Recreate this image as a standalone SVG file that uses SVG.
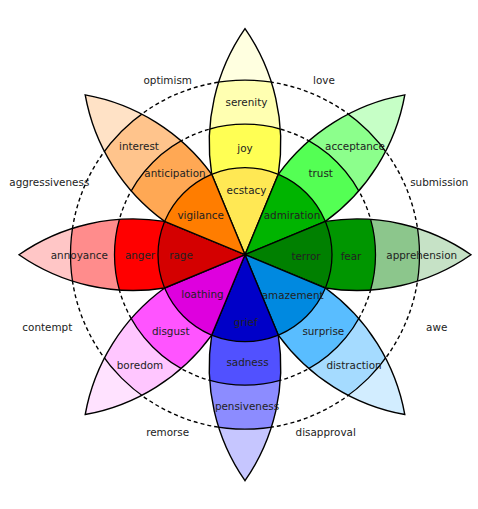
<svg xmlns="http://www.w3.org/2000/svg" xmlns:xlink="http://www.w3.org/1999/xlink" width="478" height="509" viewBox="0 0 478 509">
<style>
.b{stroke:#000;stroke-width:1.3}
.o{fill:none;stroke:#000;stroke-width:1.4;stroke-linejoin:miter}
.d{fill:none;stroke:#000;stroke-width:1.4;stroke-dasharray:4 3}
text{font-family:"DejaVu Sans","Liberation Sans",sans-serif;font-size:10.4px;fill:#222;text-anchor:middle}
</style>
<defs>
<path id="petal" d="M0,0 L-33.29,-80.38 A200,200 0 0 1 0,-226 A200,200 0 0 1 33.29,-80.38 Z"/>
<clipPath id="pc" clipPathUnits="userSpaceOnUse"><use xlink:href="#petal"/></clipPath>
</defs>
<rect width="478" height="509" fill="#fff"/>
<g id="connectors">
<circle class="d" cx="245" cy="254.7" r="174.5"/>
<circle class="d" cx="245" cy="254.7" r="130.5"/>
</g>
<g id="joy">
<g transform="translate(245 254.7) rotate(0)"><g clip-path="url(#pc)"><use xlink:href="#petal" fill="#ffffe0"/><circle class="b" r="174.5" fill="#ffffb1"/><circle class="b" r="130.5" fill="#ffff54"/><circle class="b" r="87" fill="#ffe854"/></g><use xlink:href="#petal" class="o"/></g>
<text x="246.5" y="106">serenity</text><text x="245" y="152">joy</text><text x="246.5" y="194.4">ecstacy</text>
</g>
<g id="trust">
<g transform="translate(245 254.7) rotate(45)"><g clip-path="url(#pc)"><use xlink:href="#petal" fill="#c6ffc6"/><circle class="b" r="174.5" fill="#8cff8c"/><circle class="b" r="130.5" fill="#54ff54"/><circle class="b" r="87" fill="#00b400"/></g><use xlink:href="#petal" class="o"/></g>
<text x="355" y="150.4">acceptance</text><text x="320.7" y="177.4">trust</text><text x="292" y="219.4">admiration</text>
</g>
<g id="fear">
<g transform="translate(245 254.7) rotate(90)"><g clip-path="url(#pc)"><use xlink:href="#petal" fill="#c6e2c6"/><circle class="b" r="174.5" fill="#8cc68c"/><circle class="b" r="130.5" fill="#009600"/><circle class="b" r="87" fill="#008000"/></g><use xlink:href="#petal" class="o"/></g>
<text x="421.7" y="259.4">apprehension</text><text x="351" y="260.4">fear</text><text x="306" y="260.4">terror</text>
</g>
<g id="surprise">
<g transform="translate(245 254.7) rotate(135)"><g clip-path="url(#pc)"><use xlink:href="#petal" fill="#d2edff"/><circle class="b" r="174.5" fill="#a5dbff"/><circle class="b" r="130.5" fill="#59bdff"/><circle class="b" r="87" fill="#0089e0"/></g><use xlink:href="#petal" class="o"/></g>
<text x="354" y="369.4">distraction</text><text x="323.3" y="334.7">surprise</text><text x="292.7" y="298.7">amazement</text>
</g>
<g id="sadness">
<g transform="translate(245 254.7) rotate(180)"><g clip-path="url(#pc)"><use xlink:href="#petal" fill="#c6c6ff"/><circle class="b" r="174.5" fill="#8c8cff"/><circle class="b" r="130.5" fill="#5151ff"/><circle class="b" r="87" fill="#0000c8"/></g><use xlink:href="#petal" class="o"/></g>
<text x="247" y="409.7">pensiveness</text><text x="247.5" y="366">sadness</text><text x="245.7" y="326">grief</text>
</g>
<g id="disgust">
<g transform="translate(245 254.7) rotate(225)"><g clip-path="url(#pc)"><use xlink:href="#petal" fill="#ffe2ff"/><circle class="b" r="174.5" fill="#ffc6ff"/><circle class="b" r="130.5" fill="#ff54ff"/><circle class="b" r="87" fill="#de00de"/></g><use xlink:href="#petal" class="o"/></g>
<text x="140" y="369.4">boredom</text><text x="170.7" y="334.7">disgust</text><text x="202.5" y="298.4">loathing</text>
</g>
<g id="anger">
<g transform="translate(245 254.7) rotate(270)"><g clip-path="url(#pc)"><use xlink:href="#petal" fill="#ffc6c6"/><circle class="b" r="174.5" fill="#ff8c8c"/><circle class="b" r="130.5" fill="#ff0000"/><circle class="b" r="87" fill="#d40000"/></g><use xlink:href="#petal" class="o"/></g>
<text x="79.3" y="258.7">annoyance</text><text x="140" y="258.7">anger</text><text x="181" y="258.7">rage</text>
</g>
<g id="anticipation">
<g transform="translate(245 254.7) rotate(315)"><g clip-path="url(#pc)"><use xlink:href="#petal" fill="#ffe2c6"/><circle class="b" r="174.5" fill="#ffc48c"/><circle class="b" r="130.5" fill="#ffa854"/><circle class="b" r="87" fill="#ff7d00"/></g><use xlink:href="#petal" class="o"/></g>
<text x="139" y="150.4">interest</text><text x="175" y="177.4">anticipation</text><text x="200.7" y="219.4">vigilance</text>
</g>
<g id="dyads">
<text x="167.7" y="84.4">optimism</text>
<text x="324" y="84.4">love</text>
<text x="49.3" y="186">aggressiveness</text>
<text x="439.3" y="186">submission</text>
<text x="47.3" y="331.4">contempt</text>
<text x="436.7" y="331.4">awe</text>
<text x="167.7" y="436">remorse</text>
<text x="325.7" y="436">disapproval</text>
</g>
</svg>
